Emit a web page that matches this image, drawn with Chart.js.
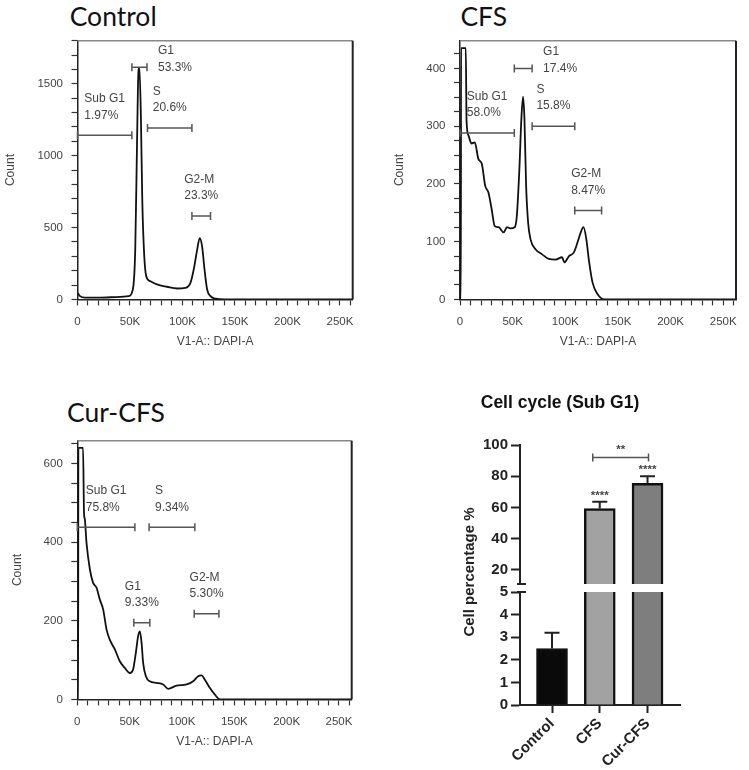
<!DOCTYPE html>
<html>
<head>
<meta charset="utf-8">
<script src="https://cdn.jsdelivr.net/npm/chart.js@4.4.1/dist/chart.umd.min.js"></script>
<style>
body { margin: 0; background: #fff; width: 749px; height: 770px; position: relative; overflow: hidden; }
canvas { position: absolute; }
.ttl { position: absolute; font-family: Lato, sans-serif; font-size: 26.5px; line-height: 1.2; color: #111; white-space: nowrap; }
</style>
</head>
<body>
<div class="ttl" style="left:69.7px;top:1.3px">Control</div>
<div class="ttl" style="left:460.4px;top:0.5px">CFS</div>
<div class="ttl" style="left:67px;top:397px">Cur-CFS</div>
<canvas id="histControl" width="365" height="358" style="left:0;top:0"></canvas>
<canvas id="histCFS" width="358" height="358" style="left:390px;top:0"></canvas>
<canvas id="histCur" width="365" height="358" style="left:0;top:400px"></canvas>
<canvas id="barLow" width="270" height="385" style="left:440px;top:385px"></canvas>
<canvas id="barTop" width="270" height="385" style="left:440px;top:385px"></canvas>
<script>
// DAPI channel (K units) and cell counts
const ctrlDapi = [0, 2.4, 7, 20, 40.6, 48.6, 52.7, 55, 56.6, 58.1, 59, 60.4, 61.7, 63.6, 65.5, 69.3, 75.7, 85.3, 94.8, 102.7, 107.6, 110.7, 114, 116.4, 118.7, 121, 123.5, 126.7, 131.5, 140, 262];
const ctrlCount = [46, 23, 12, 12, 18, 23, 69, 346, 1038, 1592, 1610, 1268, 692, 300, 161, 127, 104, 88, 76, 80, 115, 208, 346, 427, 369, 208, 69, 23, 5, 0, 0];

const cfsDapi = [0, 0.8, 1, 5.5, 6.2, 8, 11, 14, 17.5, 20.7, 23.9, 27, 30, 33, 36.6, 41.4, 44.6, 47.8, 52, 54, 56.4, 58.3, 59.9, 61.2, 62.8, 64.7, 67, 71.7, 78, 84.4, 90.8, 97, 99, 103.5, 108, 111.5, 114.7, 117.3, 120, 122.7, 125.9, 130.7, 137, 262];
const cfsCount = [0, 0, 435, 435, 310, 284, 270, 272, 243, 235, 197, 185, 157, 127, 125, 116, 125, 123, 125, 145, 226, 313, 351, 313, 197, 133, 104, 87, 78, 70, 69, 73, 64, 75, 81, 98, 116, 125, 104, 64, 29, 9, 0, 0];

const curDapi = [0, 0.8, 1, 5.5, 6.4, 7.2, 8.8, 12, 15, 18.4, 21.5, 24.7, 27.9, 31, 35.9, 40.6, 45.4, 50.2, 53.3, 55.9, 58.1, 59.8, 61.4, 62.9, 65.5, 69.3, 75.7, 82, 86.8, 94.8, 104.4, 110.7, 115.5, 118.7, 121.9, 126.7, 131.5, 136.2, 262];
const curCount = [0, 0, 640, 640, 475, 458, 398, 331, 297, 284, 254, 229, 178, 152, 127, 97, 80, 67, 76, 118, 161, 173, 144, 93, 59, 46, 42, 38, 27, 35, 38, 46, 59, 61, 50, 29, 12, 0, 0];

// gates: name, percentage, DAPI range (K) and count level of the marker
const ctrlGateName = ['Sub G1', 'G1', 'S', 'G2-M'];
const ctrlGatePct = ['1.97%', '53.3%', '20.6%', '23.3%'];
const ctrlGateFrom = [0, 51.8, 66.7, 109];
const ctrlGateTo = [51.8, 66.2, 109, 126.7];
const ctrlGateLevel = [1142, 1615, 1192, 581];

const cfsGateName = ['Sub G1', 'G1', 'S', 'G2-M'];
const cfsGatePct = ['58.0%', '17.4%', '15.8%', '8.47%'];
const cfsGateFrom = [0, 51.6, 68.5, 109];
const cfsGateTo = [51.6, 68.5, 109, 134.5];
const cfsGateLevel = [288, 400, 300, 154];

const curGateName = ['Sub G1', 'S', 'G1', 'G2-M'];
const curGatePct = ['75.8%', '9.34%', '9.33%', '5.30%'];
const curGateFrom = [0, 68.6, 54, 111.7];
const curGateTo = [55, 112.3, 69.3, 135.3];
const curGateLevel = [438, 438, 195, 218];

// summary bar chart
const groups = ['Control', 'CFS', 'Cur-CFS'];
const subG1Mean = [2.5, 59.3, 75.5];
const subG1Err = [0.7, 4.3, 4.5];
const groupStars = ['', '****', '****'];
const pairStars = '**';
const pairLevel = 92;

Chart.defaults.animation = false;
Chart.defaults.font.family = '"Liberation Sans", Arial, sans-serif';

const framePlugin = {
  id: 'frame',
  afterDraw(chart) {
    const {ctx, chartArea: a} = chart;
    ctx.save();
    ctx.strokeStyle = '#888';
    ctx.lineWidth = 1.5;
    ctx.beginPath();
    ctx.moveTo(a.left, a.top);
    ctx.lineTo(a.right, a.top);
    ctx.stroke();
    ctx.strokeStyle = '#222';
    ctx.lineWidth = 2;
    ctx.beginPath();
    ctx.moveTo(a.right, a.top);
    ctx.lineTo(a.right, a.bottom);
    ctx.stroke();
    ctx.restore();
  }
};

const gatePlugin = {
  id: 'gates',
  afterDatasetsDraw(chart, args, o) {
    const {ctx} = chart;
    const x = chart.scales.x, y = chart.scales.y;
    ctx.save();
    ctx.strokeStyle = '#555';
    ctx.lineWidth = 1.5;
    ctx.fillStyle = '#444';
    ctx.font = '12px "Liberation Sans", Arial, sans-serif';
    ctx.textBaseline = 'middle';
    o.names.forEach(function(name, i) {
      const x1 = x.getPixelForValue(o.from[i]);
      const x2 = x.getPixelForValue(o.to[i]);
      const yy = y.getPixelForValue(o.level[i]);
      ctx.beginPath();
      ctx.moveTo(x1, yy); ctx.lineTo(x2, yy);
      ctx.moveTo(x1, yy - 4); ctx.lineTo(x1, yy + 4);
      ctx.moveTo(x2, yy - 4); ctx.lineTo(x2, yy + 4);
      ctx.stroke();
      const w = Math.max(ctx.measureText(name).width, ctx.measureText(o.pct[i]).width);
      let lx, ly;
      if (o.right.includes(name)) { lx = x2 + 11; ly = yy; }
      else { lx = (x1 + x2) / 2 - w / 2; ly = yy - 20; }
      ctx.fillText(name, lx, ly - 16.5);
      ctx.fillText(o.pct[i], lx, ly);
    });
    ctx.restore();
  }
};

function histChart(id, dapi, count, yMax, yStep, yMajor, gates, box) {
  return new Chart(document.getElementById(id), {
    type: 'line',
    data: {
      datasets: [{
        data: dapi.map((d, i) => ({x: d, y: count[i]})),
        borderColor: '#111',
        borderWidth: 1.8,
        pointRadius: 0,
        cubicInterpolationMode: 'monotone'
      }]
    },
    options: {
      responsive: false,
      layout: {padding: {top: 40.7, right: box.right, bottom: 5, left: 0}},
      plugins: {legend: {display: false}, tooltip: {enabled: false}, gates: gates},
      scales: {
        x: {
          type: 'linear', min: 0, max: 262.144,
          afterFit(s) { s.height = 53.6; },
          border: {color: '#222', width: 1.5},
          grid: {drawOnChartArea: false, tickLength: 6, tickColor: '#333', tickWidth: 1.2},
          ticks: {
            stepSize: 10, includeBounds: false, autoSkip: false, maxRotation: 0, padding: 10,
            color: '#444', font: {size: 11.5},
            callback: v => Math.round(v) % 50 === 0 ? (v === 0 ? '0' : Math.round(v) + 'K') : ''
          },
          title: {display: true, text: 'V1-A:: DAPI-A', color: '#444', font: {size: 12}, padding: {top: 4, bottom: 4}}
        },
        y: {
          min: 0, max: yMax,
          afterFit(s) { s.width = box.yWidth; },
          border: {color: '#222', width: 1.5},
          grid: {drawOnChartArea: false, tickLength: 6, tickColor: '#333', tickWidth: 1.2},
          ticks: {
            stepSize: yStep, includeBounds: false, autoSkip: false, padding: 8.5,
            color: '#444', font: {size: 11.5},
            callback: v => v % yMajor === 0 ? String(v) : ''
          },
          title: {display: true, text: 'Count', color: '#444', font: {size: 12}, padding: {top: box.titlePad, bottom: 0}}
        }
      }
    },
    plugins: [framePlugin, gatePlugin]
  });
}

histChart('histControl', ctrlDapi, ctrlCount, 1800, 100, 500,
  {names: ctrlGateName, pct: ctrlGatePct, from: ctrlGateFrom, to: ctrlGateTo, level: ctrlGateLevel, right: ['G1']},
  {yWidth: 77.5, right: 12.3, titlePad: 3.3});
histChart('histCFS', cfsDapi, cfsCount, 448, 25, 100,
  {names: cfsGateName, pct: cfsGatePct, from: cfsGateFrom, to: cfsGateTo, level: cfsGateLevel, right: ['G1']},
  {yWidth: 70, right: 12, titlePad: 2.8});
histChart('histCur', curDapi, curCount, 658, 50, 200,
  {names: curGateName, pct: curGatePct, from: curGateFrom, to: curGateTo, level: curGateLevel, right: []},
  {yWidth: 77.3, right: 13.3, titlePad: 10.3});

// error bars, stars and axis-break marks for the two halves of the broken axis
const barExtras = {
  id: 'barExtras',
  afterDatasetsDraw(chart, args, o) {
    const {ctx, chartArea: a} = chart;
    const x = chart.scales.x, y = chart.scales.y;
    ctx.save();
    ctx.beginPath();
    ctx.rect(a.left, a.top, a.right - a.left, a.bottom - a.top);
    ctx.clip();
    ctx.strokeStyle = '#222';
    ctx.lineWidth = 2;
    subG1Mean.forEach(function(m, i) {
      const px = x.getPixelForValue(i);
      const top = y.getPixelForValue(m + subG1Err[i]);
      ctx.beginPath();
      ctx.moveTo(px, y.getPixelForValue(m));
      ctx.lineTo(px, top);
      ctx.moveTo(px - 7.5, top);
      ctx.lineTo(px + 7.5, top);
      ctx.stroke();
    });
    ctx.restore();

    ctx.save();
    ctx.strokeStyle = '#222';
    ctx.lineWidth = 2;
    ctx.beginPath();
    const by = o.top ? a.bottom : a.top;
    ctx.moveTo(a.left - 3, by);
    ctx.lineTo(a.left + 6, by);
    ctx.stroke();
    if (o.top) {
      ctx.fillStyle = '#444';
      ctx.font = 'bold 11.5px "Liberation Sans", Arial, sans-serif';
      ctx.textAlign = 'center';
      ctx.textBaseline = 'middle';
      groupStars.forEach(function(s, i) {
        if (!s) return;
        const top = y.getPixelForValue(subG1Mean[i] + subG1Err[i]);
        if (top < a.bottom) ctx.fillText(s, x.getPixelForValue(i), top - 6.5);
      });
      const x1 = x.getPixelForValue(1) - 7, x2 = x.getPixelForValue(2) + 1;
      const py = y.getPixelForValue(pairLevel);
      ctx.strokeStyle = '#555';
      ctx.lineWidth = 1.5;
      ctx.beginPath();
      ctx.moveTo(x1, py); ctx.lineTo(x2, py);
      ctx.moveTo(x1, py - 4); ctx.lineTo(x1, py + 4);
      ctx.moveTo(x2, py - 4); ctx.lineTo(x2, py + 4);
      ctx.stroke();
      ctx.fillText(pairStars, (x1 + x2) / 2, py - 7.5);
    } else {
      ctx.fillStyle = '#222';
      ctx.font = 'bold 15px "Liberation Sans", Arial, sans-serif';
      ctx.textAlign = 'center';
      ctx.textBaseline = 'middle';
      ctx.translate(30, 187);
      ctx.rotate(-Math.PI / 2);
      ctx.fillText('Cell percentage %', 0, 0);
    }
    ctx.restore();
  }
};

function barChart(id, isTop) {
  return new Chart(document.getElementById(id), {
    type: 'bar',
    data: {
      datasets: [{
        data: groups.map((g, i) => ({x: i, y: subG1Mean[i]})),
        backgroundColor: ['#0a0a0a', '#a2a2a2', '#7e7e7e'],
        borderColor: '#111',
        borderWidth: 2.5,
        barThickness: 31,
        clip: 0
      }]
    },
    options: {
      responsive: false,
      layout: {padding: isTop ? {top: 1.5, right: 30, bottom: 186, left: 0} : {top: 207, right: 30, bottom: 0, left: 0}},
      plugins: {
        legend: {display: false},
        tooltip: {enabled: false},
        title: {
          display: isTop, text: 'Cell cycle (Sub G1)', color: '#111',
          font: {size: 17.5, weight: 'bold'}, padding: {top: 6, bottom: 31.5}
        },
        barExtras: {top: isTop}
      },
      scales: {
        x: {
          type: 'linear', min: -0.67, max: 2.68, display: !isTop, offset: false,
          afterBuildTicks(s) { s.ticks = groups.map((g, i) => ({value: i})); },
          afterFit(s) { if (!isTop) s.height = 65; },
          border: {color: '#222', width: 2},
          grid: {drawOnChartArea: false, offset: false, tickLength: 8, tickColor: '#222', tickWidth: 2},
          ticks: {
            autoSkip: false, minRotation: 45, maxRotation: 45, padding: 2,
            color: '#222', font: {size: 15, weight: 'bold'},
            callback: v => groups[v]
          }
        },
        y: isTop ? {
          min: 11, max: 100,
          afterFit(s) { s.width = 80; },
          border: {color: '#222', width: 2},
          grid: {drawOnChartArea: false, tickLength: 9, tickColor: '#222', tickWidth: 2},
          ticks: {stepSize: 20, includeBounds: false, autoSkip: false, padding: 3, color: '#222', font: {size: 15, weight: 'bold'}}
        } : {
          min: 0, max: 5,
          afterFit(s) { s.width = 80; },
          border: {color: '#222', width: 2},
          grid: {drawOnChartArea: false, tickLength: 9, tickColor: '#222', tickWidth: 2},
          ticks: {stepSize: 1, autoSkip: false, padding: 3, color: '#222', font: {size: 15, weight: 'bold'}}
        }
      }
    },
    plugins: [barExtras]
  });
}

barChart('barLow', false);
barChart('barTop', true);
</script>
</body>
</html>
